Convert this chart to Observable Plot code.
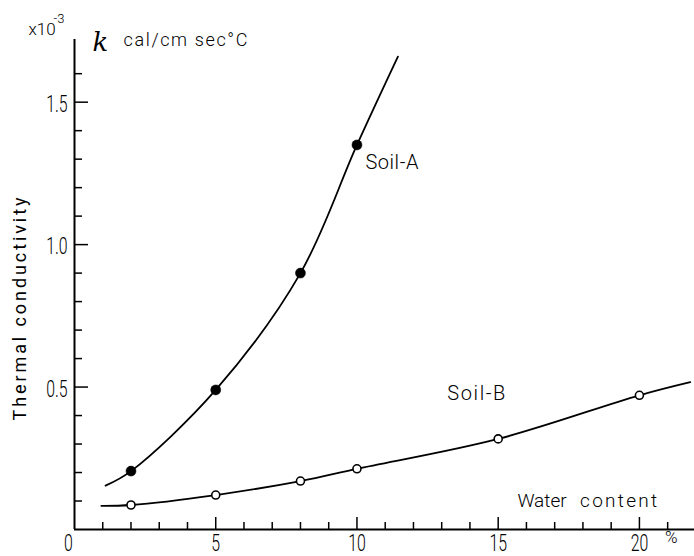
<!DOCTYPE html>
<html>
<head>
<meta charset="utf-8">
<script src="https://cdn.jsdelivr.net/npm/d3@7"></script>
<script src="https://cdn.jsdelivr.net/npm/@observablehq/plot@0.6"></script>
<style>
  html, body { margin: 0; padding: 0; background: #fff; }
  #chart svg { display: block; }
</style>
</head>
<body>
<div id="chart"></div>
<script>
// ---- data ----
const waterContentA = [2, 5, 8, 10];                 // % water content, Soil-A measurements
const conductivityA = [0.205, 0.49, 0.90, 1.35];    // x10^-3 cal/cm sec °C
const waterContentB = [2, 5, 8, 10, 15, 20];        // % water content, Soil-B measurements
const conductivityB = [0.086, 0.121, 0.17, 0.213, 0.318, 0.471];
// where the hand-drawn curves begin and end
const curveEndsAx = [1.1, 11.45];
const curveEndsAy = [0.154, 1.66];
const curveEndsBx = [0.95, 21.8];
const curveEndsBy = [0.083, 0.517];
// axis ticks and labels
const xMajorTicks = [0, 5, 10, 15, 20];
const xTickLabels = ["0", "5", "10", "15", "20"];
const xMinorTicks = [1, 2, 3, 4, 6, 7, 8, 9, 11, 12, 13, 14, 16, 17, 18, 19, 21];
const yMajorTicks = [0.5, 1.0, 1.5];
const yTickLabels = ["0.5", "1.0", "1.5"];
const yMinorTicks = [0.1, 0.2, 0.3, 0.4, 0.6, 0.7, 0.8, 0.9, 1.1, 1.2, 1.3, 1.4, 1.6];
const seriesNames = ["Soil-A", "Soil-B"];

// ---- layout ----
const W = 694, H = 556;
const mL = 74, mR = 0, mT = 39, mB = 27;
const frameW = W - mL - mR, frameH = H - mT - mB;
const font = "Roboto, 'DejaVu Sans', sans-serif";

const pts = (xs, ys) => xs.map((x, i) => ({x, y: ys[i]}));
const dotsA = pts(waterContentA, conductivityA);
const dotsB = pts(waterContentB, conductivityB);
const lineA = [...pts(curveEndsAx.slice(0, 1), curveEndsAy.slice(0, 1)), ...dotsA, ...pts(curveEndsAx.slice(1), curveEndsAy.slice(1))];
const lineB = [...pts(curveEndsBx.slice(0, 1), curveEndsBy.slice(0, 1)), ...dotsB, ...pts(curveEndsBx.slice(1), curveEndsBy.slice(1))];

const digitText = {fontSize: 24, fontWeight: 300, fontFamily: font, fill: "black"};

const chart = Plot.plot({
  width: W, height: H,
  marginLeft: mL, marginRight: mR, marginTop: mT, marginBottom: mB,
  x: {domain: [0, 21.95], axis: null},
  y: {domain: [0, 1.72], axis: null},
  style: {background: "white", fontFamily: font, color: "black"},
  marks: [
    // axis lines
    Plot.ruleY([0], {strokeWidth: 2}),
    Plot.ruleX([0], {strokeWidth: 2}),
    // inward ticks
    Plot.tickX(xMinorTicks, {x: d => d, insetTop: frameH - 7, strokeWidth: 1.5}),
    Plot.tickX(xMajorTicks.slice(1), {x: d => d, insetTop: frameH - 12, strokeWidth: 1.5}),
    Plot.tickY(yMinorTicks, {y: d => d, insetRight: frameW - 8, strokeWidth: 1.5}),
    Plot.tickY(yMajorTicks, {y: d => d, insetRight: frameW - 14, strokeWidth: 1.5}),
    // tick labels
    Plot.text(xMajorTicks.slice(1), {x: d => d, y: 0, text: (d, i) => xTickLabels[i + 1], dy: 13.5, ...digitText}),
    Plot.text(xMajorTicks.slice(0, 1), {x: d => d, y: 0, text: (d, i) => xTickLabels[i], dx: -6, dy: 13.5, ...digitText}),
    Plot.text(yMajorTicks, {x: 0, y: d => d, text: (d, i) => yTickLabels[i], textAnchor: "end", dx: -7, dy: 2, ...digitText}),
    Plot.text(["%"], {frameAnchor: "bottom-right", dx: -17, dy: 13, fontSize: 17, fontWeight: 300}),
    // axis titles
    Plot.text(["Thermal conductivity"], {frameAnchor: "left", textAnchor: "start", rotate: -90, dx: -54, dy: 136, fontSize: 18}),
    Plot.text(["x10"], {frameAnchor: "top-left", textAnchor: "start", dx: -46, dy: -17, fontSize: 17, fontWeight: 300}),
    Plot.text(["-3"], {frameAnchor: "top-left", textAnchor: "start", dx: -21, dy: -26, fontSize: 13, fontWeight: 300}),
    Plot.text(["k"], {frameAnchor: "top-left", dx: 18, dy: -7, fontSize: 26, fontStyle: "italic", fontFamily: "'DejaVu Serif', serif"}),
    Plot.text(["cal/cm sec°C"], {frameAnchor: "top-left", textAnchor: "start", dx: 49, dy: -6, fontSize: 18, fontWeight: 300}),
    Plot.text(["Water"], {x: 15.68, y: 0.102, textAnchor: "start", fontSize: 19, fontWeight: 300}),
    Plot.text(["content"], {x: 17.9, y: 0.102, textAnchor: "start", fontSize: 19, fontWeight: 300}),
    // curves
    Plot.line(lineA, {x: "x", y: "y", curve: "catmull-rom", strokeWidth: 1.8}),
    Plot.line(lineB, {x: "x", y: "y", curve: "catmull-rom", strokeWidth: 1.8}),
    // measurement points
    Plot.dot(dotsA, {x: "x", y: "y", r: 5, fill: "black", stroke: "black", strokeWidth: 0.5}),
    Plot.dot(dotsB, {x: "x", y: "y", r: 4, fill: "white", stroke: "black", strokeWidth: 1.6}),
    // series labels
    Plot.text(seriesNames.slice(0, 1), {x: 10.3, y: 1.288, textAnchor: "start", fontSize: 20, fontWeight: 300}),
    Plot.text(seriesNames.slice(1), {x: 13.2, y: 0.477, textAnchor: "start", fontSize: 20, fontWeight: 300})
  ]
});

// narrow, tall digits as in the drawing; stretch lettering to the drawn widths
const lengths = {"Thermal conductivity": 223, "cal/cm sec°C": 124, "Soil-A": 53, "Soil-B": 58, "content": 77};
chart.querySelectorAll("text").forEach(t => {
  const s = t.textContent;
  if (/^[0-9.]+$/.test(s)) {
    const tr = t.getAttribute("transform") || "";
    t.setAttribute("transform", tr + " scale(0.66,1)");
  }
  if (lengths[s]) {
    t.setAttribute("textLength", lengths[s]);
    t.setAttribute("lengthAdjust", "spacing");
  }
});

document.getElementById("chart").appendChild(chart);
</script>
</body>
</html>
